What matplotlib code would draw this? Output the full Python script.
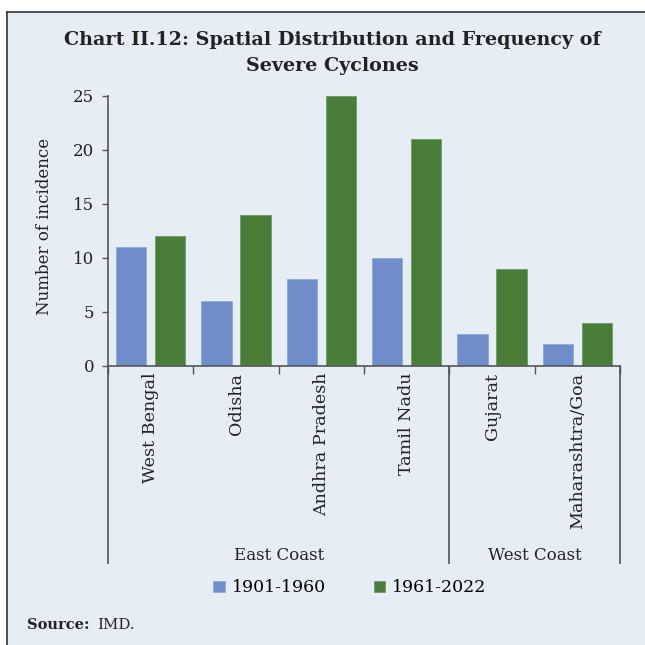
import matplotlib
matplotlib.use("Agg")
import matplotlib.pyplot as plt
import matplotlib.transforms as mtransforms
from matplotlib.patches import Rectangle
from matplotlib.lines import Line2D
import numpy as np

states = ["West Bengal", "Odisha", "Andhra Pradesh", "Tamil Nadu", "Gujarat", "Maharashtra/Goa"]
p1901_1960 = [11, 6, 8, 10, 3, 2]
p1961_2022 = [12, 14, 25, 21, 9, 4]
series_names = ["1901-1960", "1961-2022"]
groups = ["East Coast", "West Coast"]
group_sizes = [4, 2]
yticks = [0, 5, 10, 15, 20, 25]

BG = "#e6edf4"
BLUE = "#6f8ec9"
GREEN = "#4a7d3a"
AX = "#555555"
TXT = "#222222"
FONT = "DejaVu Serif"
FS = 12

W = H = 645
fig = plt.figure(figsize=(6.45, 6.45), dpi=100)
fig.patch.set_facecolor("white")

# background panel with top and left border
fig.patches.append(Rectangle((7 / W, 0), 1 - 7 / W, 1 - 12 / H, transform=fig.transFigure,
                             facecolor=BG, edgecolor="none", zorder=-10))
fig.lines.append(Line2D([7 / W, 1], [1 - 12 / H, 1 - 12 / H], transform=fig.transFigure, color="#333333", lw=1.2))
fig.lines.append(Line2D([7 / W, 7 / W], [0, 1 - 12 / H], transform=fig.transFigure, color="#333333", lw=1.2))

left, right = 108 / W, 620 / W
bottom, top = 1 - 366 / H, 1 - 95.5 / H
ax = fig.add_axes([left, bottom, right - left, top - bottom])
ax.set_facecolor("none")
ax.set_zorder(5)

x = np.arange(len(states))
bw = 0.357
off = 0.228
ax.bar(x - off, p1901_1960, bw, color=BLUE, edgecolor="#8ea8d8", linewidth=0.6, label=series_names[0])
ax.bar(x + off, p1961_2022, bw, color=GREEN, edgecolor="#6f9a62", linewidth=0.6, label=series_names[1])

ax.set_xlim(-0.5, len(states) - 0.5)
ax.set_ylim(0, 25)
ax.set_yticks(yticks)
ax.set_yticklabels([str(t) for t in yticks], fontfamily=FONT, fontsize=FS, color=TXT)
ax.tick_params(axis="y", direction="out", length=4, width=1, color=AX, pad=6)
ax.set_xticks(np.arange(-0.5, len(states), 1.0))
ax.set_xticklabels([])
ax.tick_params(axis="x", direction="out", length=6, width=1, color=AX)

for s in ["top", "right"]:
    ax.spines[s].set_visible(False)
for s in ["left", "bottom"]:
    ax.spines[s].set_color(AX)
    ax.spines[s].set_linewidth(1.2)

ax.set_ylabel("Number of incidence", fontfamily=FONT, fontsize=FS, color=TXT)
ax.yaxis.set_label_coords((53 - 108) / 512, (366 - 226) / 270.5)

trans = mtransforms.blended_transform_factory(ax.transData, ax.transAxes)
# category labels
for i, s in enumerate(states):
    ax.text(i, -0.025, s, transform=trans, rotation=90, ha="center", va="top",
            fontfamily=FONT, fontsize=12.6, color=TXT)

# group separators and labels
ybot = -(563 - 366) / (366 - 95.5)
start = -0.5
bounds = [start]
for g in group_sizes:
    start += g
    bounds.append(start)
for b in bounds:
    ax.add_line(Line2D([b, b], [0, ybot], transform=trans, color=AX, lw=1.2, clip_on=False))
for gi, g in enumerate(groups):
    cx = (bounds[gi] + bounds[gi + 1]) / 2
    ax.text(cx, -(555 - 366) / (366 - 95.5), g, transform=trans, ha="center", va="center",
            fontfamily=FONT, fontsize=FS, color=TXT)

# legend
fig.legend(loc="center", bbox_to_anchor=(350 / W, 1 - 588 / H), ncol=2, frameon=False,
           prop={"family": FONT, "size": 12.5}, handlelength=0.65, handleheight=0.65,
           handletextpad=0.4, columnspacing=2.8)

# title
fig.text(0.5 + 10 / W, 1 - 40 / H, "Chart II.12: Spatial Distribution and Frequency of",
         ha="center", va="center", fontfamily=FONT, fontweight="bold", fontsize=13.8, color=TXT)
fig.text(0.5 + 10 / W, 1 - 66 / H, "Severe Cyclones",
         ha="center", va="center", fontfamily=FONT, fontweight="bold", fontsize=13.8, color=TXT)

# source
fig.text(27 / W, 1 - 625 / H, "Source:", ha="left", va="center", fontfamily=FONT,
         fontweight="bold", fontsize=10.5, color=TXT)
fig.text(97 / W, 1 - 625 / H, "IMD.", ha="left", va="center", fontfamily=FONT,
         fontsize=10.8, color=TXT)

fig.savefig("out.png", dpi=100, facecolor=fig.get_facecolor())
